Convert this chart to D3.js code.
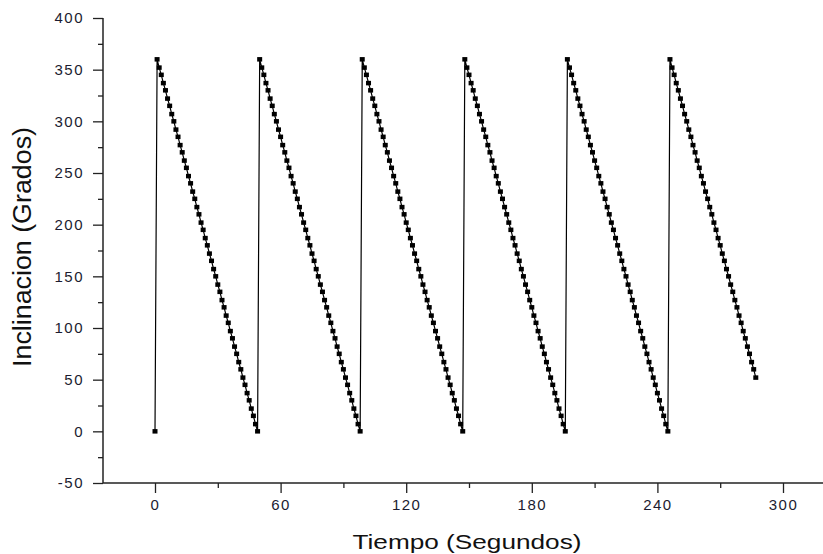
<!DOCTYPE html>
<html>
<head>
<meta charset="utf-8">
<script src="https://cdn.jsdelivr.net/npm/d3@7"></script>
<style>
  html, body { margin: 0; padding: 0; background: #fff; }
  svg { display: block; }
  text { font-family: "Liberation Sans", Arial, sans-serif; }
</style>
</head>
<body>
<svg id="chart" width="823" height="554"></svg>
<script>
// ---- Data ----
const sampleStep = 1; // seconds between samples
const cycleStarts = [0, 50, 99, 148, 197, 246];
const ciclo1 = [0, 360, 352, 345, 337, 330, 322, 315, 307, 300, 292, 285, 277, 270, 262, 255, 247, 240, 232, 225, 217, 210, 202, 195, 187, 180, 172, 165, 157, 150, 142, 135, 127, 120, 112, 105, 97, 90, 82, 75, 67, 60, 52, 45, 37, 30, 22, 15, 7, 0];
const ciclo2 = [360, 352, 345, 337, 330, 322, 315, 307, 300, 292, 285, 277, 270, 262, 255, 247, 240, 232, 225, 217, 210, 202, 195, 187, 180, 172, 165, 157, 150, 142, 135, 127, 120, 112, 105, 97, 90, 82, 75, 67, 60, 52, 45, 37, 30, 22, 15, 7, 0];
const ciclo3 = [360, 352, 345, 337, 330, 322, 315, 307, 300, 292, 285, 277, 270, 262, 255, 247, 240, 232, 225, 217, 210, 202, 195, 187, 180, 172, 165, 157, 150, 142, 135, 127, 120, 112, 105, 97, 90, 82, 75, 67, 60, 52, 45, 37, 30, 22, 15, 7, 0];
const ciclo4 = [360, 352, 345, 337, 330, 322, 315, 307, 300, 292, 285, 277, 270, 262, 255, 247, 240, 232, 225, 217, 210, 202, 195, 187, 180, 172, 165, 157, 150, 142, 135, 127, 120, 112, 105, 97, 90, 82, 75, 67, 60, 52, 45, 37, 30, 22, 15, 7, 0];
const ciclo5 = [360, 352, 345, 337, 330, 322, 315, 307, 300, 292, 285, 277, 270, 262, 255, 247, 240, 232, 225, 217, 210, 202, 195, 187, 180, 172, 165, 157, 150, 142, 135, 127, 120, 112, 105, 97, 90, 82, 75, 67, 60, 52, 45, 37, 30, 22, 15, 7, 0];
const ciclo6 = [360, 352, 345, 337, 330, 322, 315, 307, 300, 292, 285, 277, 270, 262, 255, 247, 240, 232, 225, 217, 210, 202, 195, 187, 180, 172, 165, 157, 150, 142, 135, 127, 120, 112, 105, 97, 90, 82, 75, 67, 60, 52];
const cycles = [ciclo1, ciclo2, ciclo3, ciclo4, ciclo5, ciclo6];

const xTicks = [0, 60, 120, 180, 240, 300];
const xMinorTicks = [30, 90, 150, 210, 270];
const yTicks = [-50, 0, 50, 100, 150, 200, 250, 300, 350, 400];
const yMinorTicks = [-25, 25, 75, 125, 175, 225, 275, 325, 375];
const xTitle = "Tiempo (Segundos)";
const yTitle = "Inclinacion (Grados)";

// ---- Build points ----
const points = [];
cycles.forEach((c, k) => {
  c.forEach((v, i) => points.push({ t: cycleStarts[k] + i * sampleStep, v }));
});

// ---- Scales ----
const svg = d3.select("#chart");
const x = d3.scaleLinear().domain([0, 300]).range([155, 783]);
const y = d3.scaleLinear().domain([-50, 400]).range([483, 18]);
const axisLeftX = 103, axisRightX = 823;
const fmt = d => String(d);

// ---- Data line & markers ----
const line = d3.line().x(d => x(d.t)).y(d => y(d.v));
svg.append("path")
  .datum(points)
  .attr("fill", "none")
  .attr("stroke", "#000")
  .attr("stroke-width", 1.2)
  .attr("d", line);

const mw = 5, mh = 4.5;
svg.append("g").selectAll("rect")
  .data(points)
  .join("rect")
  .attr("x", d => x(d.t) - mw / 2)
  .attr("y", d => y(d.v) - mh / 2)
  .attr("width", mw)
  .attr("height", mh)
  .attr("fill", "#000");

// ---- Y axis ----
const yAxis = d3.axisLeft(y).tickValues(yTicks).tickFormat(fmt).tickSize(10).tickSizeOuter(0).tickPadding(9);
const gy = svg.append("g").attr("transform", `translate(${axisLeftX},0)`).call(yAxis);
gy.select(".domain").remove();
gy.selectAll(".tick line").attr("stroke", "#222").attr("stroke-width", 1.3);
gy.selectAll(".tick text")
  .attr("font-size", 15)
  .attr("letter-spacing", "1.5px")
  .attr("fill", "#1c1c30")
  .attr("font-family", "Liberation Sans, Arial, sans-serif");
const gym = svg.append("g").attr("transform", `translate(${axisLeftX},0)`)
  .call(d3.axisLeft(y).tickValues(yMinorTicks).tickSize(5).tickFormat(""));
gym.select(".domain").remove();
gym.selectAll(".tick line").attr("stroke", "#222").attr("stroke-width", 1.3);
svg.append("line")
  .attr("x1", axisLeftX).attr("x2", axisLeftX)
  .attr("y1", y(400)).attr("y2", y(-50))
  .attr("stroke", "#222").attr("stroke-width", 1.5);

// ---- X axis ----
const xAxis = d3.axisBottom(x).tickValues(xTicks).tickFormat(fmt).tickSize(10).tickSizeOuter(0).tickPadding(6);
const gx = svg.append("g").attr("transform", `translate(0,${y(-50)})`).call(xAxis);
gx.select(".domain").remove();
gx.selectAll(".tick line").attr("stroke", "#222").attr("stroke-width", 1.3);
gx.selectAll(".tick text")
  .attr("font-size", 15)
  .attr("letter-spacing", "1.5px")
  .attr("fill", "#1c1c30")
  .attr("font-family", "Liberation Sans, Arial, sans-serif");
const gxm = svg.append("g").attr("transform", `translate(0,${y(-50)})`)
  .call(d3.axisBottom(x).tickValues(xMinorTicks).tickSize(5).tickFormat(""));
gxm.select(".domain").remove();
gxm.selectAll(".tick line").attr("stroke", "#222").attr("stroke-width", 1.3);
svg.append("line")
  .attr("x1", axisLeftX).attr("x2", axisRightX)
  .attr("y1", y(-50)).attr("y2", y(-50))
  .attr("stroke", "#222").attr("stroke-width", 1.5);

// ---- Titles ----
svg.append("text")
  .attr("x", 467).attr("y", 549)
  .attr("text-anchor", "middle")
  .attr("font-size", 21)
  .attr("textLength", 229)
  .attr("lengthAdjust", "spacingAndGlyphs")
  .attr("fill", "#111")
  .text(xTitle);

svg.append("text")
  .attr("transform", "translate(31,247) rotate(-90)")
  .attr("text-anchor", "middle")
  .attr("font-size", 25)
  .attr("textLength", 240)
  .attr("lengthAdjust", "spacingAndGlyphs")
  .attr("fill", "#111")
  .text(yTitle);
</script>
</body>
</html>
